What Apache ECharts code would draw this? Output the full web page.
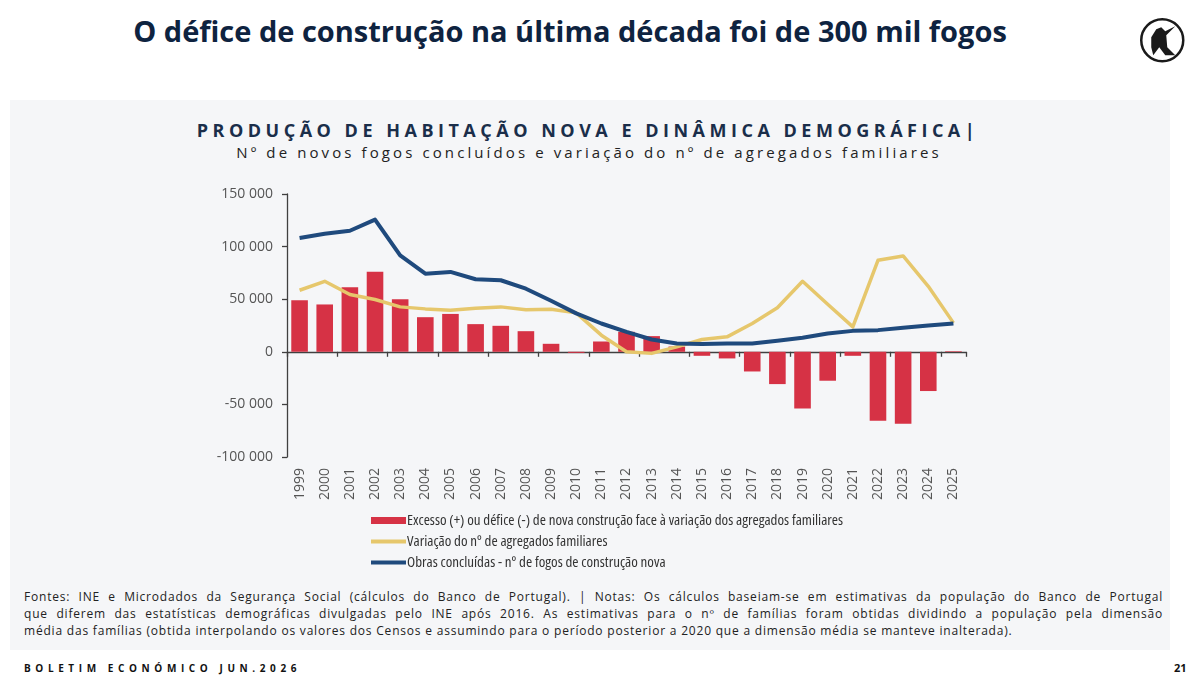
<!DOCTYPE html>
<html>
<head>
<meta charset="utf-8">
<script src="https://cdn.jsdelivr.net/npm/echarts@6/dist/echarts.min.js"></script>
<style>
  html, body { margin:0; padding:0; background:#fff; }
  #page { position:relative; width:1200px; height:694px; overflow:hidden; font-family:"Open Sans", "Noto Sans", sans-serif; }
  #panel { position:absolute; left:10px; top:100px; width:1160px; height:550px; background:#f5f6f8; }
  #title { position:absolute; left:0; width:1140px; top:11px; text-align:center; font-size:29px; font-weight:700; color:#0e2340; }
  #ctitle { position:absolute; left:0; width:1176px; top:118px; text-align:center; font-size:18px; font-weight:700; letter-spacing:4.5px; color:#1a2e4a; }
  #csub { position:absolute; left:0; width:1178px; top:142px; text-align:center; font-size:15px; letter-spacing:3.1px; color:#222; }
  .note { position:absolute; left:24px; width:1139px; font-size:12px; letter-spacing:0.8px; color:#222; white-space:normal; line-height:17px; }
  .just { text-align:justify; text-align-last:justify; }
  #foot { position:absolute; left:24px; top:661px; font-size:10px; font-weight:700; letter-spacing:4.6px; color:#111; }
  #pnum { position:absolute; left:1174px; top:660px; font-size:11px; font-weight:700; color:#111; }
  #chart { position:absolute; left:0; top:0; width:1200px; height:694px; }
</style>
</head>
<body>
<div id="page">
  <div id="panel"></div>
  <div id="title">O défice de construção na última década foi de 300 mil fogos</div>
  <div id="ctitle">PRODUÇÃO DE HABITAÇÃO NOVA E DINÂMICA DEMOGRÁFICA|</div>
  <div id="csub">Nº de novos fogos concluídos e variação do nº de agregados familiares</div>
  <div class="note just" style="top:588px">Fontes: INE e Microdados da Segurança Social (cálculos do Banco de Portugal). | Notas: Os cálculos baseiam-se em estimativas da população do Banco de Portugal</div>
  <div class="note just" style="top:605px">que diferem das estatísticas demográficas divulgadas pelo INE após 2016. As estimativas para o nº de famílias foram obtidas dividindo a população pela dimensão</div>
  <div class="note" style="top:622px">média das famílias (obtida interpolando os valores dos Censos e assumindo para o período posterior a 2020 que a dimensão média se manteve inalterada).</div>
  <div id="foot">BOLETIM ECONÓMICO JUN.2026</div>
  <div id="pnum">21</div>
  <div id="chart"></div>
</div>
<script>
// anos (eixo x)
var years = ['1999','2000','2001','2002','2003','2004','2005','2006','2007','2008','2009','2010','2011','2012',
             '2013','2014','2015','2016','2017','2018','2019','2020','2021','2022','2023','2024','2025'];

// excesso (+) ou défice (-) de nova construção
var balance = [49000, 45000, 61400, 76200, 50000, 32900, 36000, 26300, 24700, 19600, 7600, -1000, 9800, 19000,
               14900, 5000, -3800, -6300, -18700, -30700, -53800, -27500, -3800, -65500, -68300, -37300, 600];

// variação do nº de agregados familiares
var households = [58500, 67000, 54400, 49700, 42700, 40800, 39500, 41400, 42700, 40000, 40500, 37000, 15800, 0,
                  -1500, 4700, 11700, 14200, 26900, 41800, 67000, 45200, 23700, 87000, 91100, 62300, 27500];

// obras concluídas - nº de fogos
var completed = [108200, 112300, 115100, 125600, 91700, 74300, 75900, 69000, 68000, 60000, 48500, 36500, 26900, 19000,
                 11700, 7900, 7300, 7900, 7900, 10400, 13300, 17400, 19900, 20600, 22800, 25000, 26900];

var names = [
  'Excesso (+) ou défice (-) de nova construção face à variação dos agregados familiares',
  'Variação do nº de agregados familiares',
  'Obras concluídas - nº de fogos de construção nova'
];

function fmt(v) {
  return String(v).replace(/\B(?=(\d{3})+(?!\d))/g, ' ');
}

var chart = echarts.init(document.getElementById('chart'));
var axisGrey = '#404040';
var hideDot = { color: 'rgba(0,0,0,0)', borderWidth: 0, opacity: 0 };
var option = {
  animation: false,
  legend: {
    orient: 'vertical',
    left: 369,
    top: 513,
    padding: 0,
    itemWidth: 35,
    itemHeight: 7,
    itemGap: 6,
    textStyle: { fontFamily: '"Open Sans"', fontStyle: 'condensed', fontSize: 15, color: '#333', padding: [0, 0, 0, -4] },
    data: [
      { name: names[0], icon: 'rect' },
      { name: names[1], itemStyle: hideDot, lineStyle: { width: 4 } },
      { name: names[2], itemStyle: hideDot, lineStyle: { width: 4 } }
    ]
  },
  grid: { left: 287, right: 234, top: 194, bottom: 237 },
  xAxis: [{
    type: 'category',
    data: years,
    position: 'bottom',
    axisLine: { show: false, onZero: false },
    axisTick: { show: false },
    axisLabel: { rotate: 90, margin: 11, fontSize: 14, color: '#555', fontFamily: '"Open Sans", sans-serif' }
  }, {
    type: 'category',
    data: years,
    position: 'bottom',
    axisLine: { onZero: true, lineStyle: { color: axisGrey, width: 1.3 } },
    axisTick: { show: true, length: 5, lineStyle: { color: axisGrey, width: 1.3 } },
    axisLabel: { show: false }
  }],
  yAxis: {
    type: 'value',
    min: -100000,
    max: 150000,
    interval: 50000,
    axisLine: { show: true, lineStyle: { color: axisGrey, width: 1.3 } },
    axisTick: { show: true, length: 5, lineStyle: { color: axisGrey, width: 1.3 } },
    splitLine: { show: false },
    axisLabel: { formatter: fmt, fontSize: 14, color: '#555', margin: 14, fontFamily: '"Open Sans", sans-serif' }
  },
  series: [{
    name: names[0],
    type: 'bar',
    data: balance,
    barWidth: '66%',
    itemStyle: { color: '#d63245' }
  }, {
    name: names[1],
    type: 'line',
    data: households,
    symbol: 'none',
    lineStyle: { color: '#e6c76c', width: 3.5, join: 'round' },
    itemStyle: { color: '#e6c76c' }
  }, {
    name: names[2],
    type: 'line',
    data: completed,
    symbol: 'none',
    lineStyle: { color: '#1f4a7d', width: 4, join: 'round' },
    itemStyle: { color: '#1f4a7d' }
  }],
  graphic: [{
    type: 'group',
    left: 1140,
    top: 18,
    children: [{
      type: 'circle',
      shape: { cx: 23, cy: 23, r: 21 },
      style: { fill: '#fff', stroke: '#1a1a1a', lineWidth: 2.5 }
    }, {
      type: 'polygon',
      shape: { points: [[12, 20], [17, 12], [22, 10], [26, 14], [36, 9], [27, 18], [28, 30], [36, 38], [26, 38], [20, 30], [14, 38], [12, 30]] },
      style: { fill: '#1a1a1a' }
    }]
  }]
};
chart.setOption(option);
</script>
</body>
</html>
